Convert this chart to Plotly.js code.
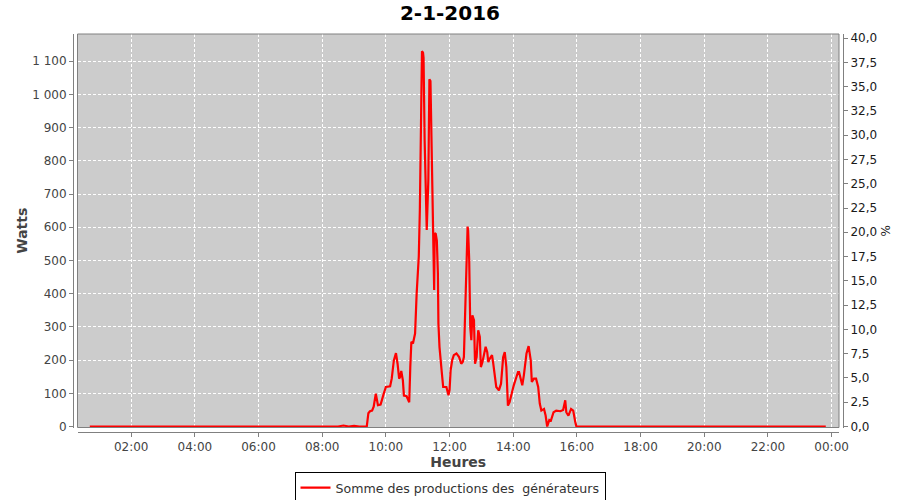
<!DOCTYPE html>
<html>
<head>
<meta charset="utf-8">
<script src="https://cdn.plot.ly/plotly-3.0.1.min.js"></script>
<style>html,body{margin:0;padding:0;background:#fff;}#chart{width:900px;height:500px;}</style>
</head>
<body>
<div id="chart"></div>
<script>
// ---- data ----
const chartTitle = '2-1-2016';
const day = '2016-01-02';
const seriesName = 'Somme des productions des\u00A0 générateurs';
const times = [
  '00:42','01:30','02:30','03:30','04:30','05:30','06:30','07:30','08:30','08:40','08:50','09:00','09:10','09:24',
  '09:27','09:30','09:34','09:37','09:41','09:45','09:50','09:56','10:00','10:08','10:11','10:15','10:19','10:22',
  '10:25','10:27','10:29','10:32','10:34','10:39','10:44','10:46','10:48','10:51','10:55','10:58','11:00','11:02',
  '11:04','11:06','11:08','11:10','11:11','11:13','11:15','11:17','11:20','11:22','11:24','11:27','11:30','11:31',
  '11:32','11:34','11:36','11:38','11:39','11:41','11:45','11:48','11:54','11:58','12:00','12:02','12:05','12:08',
  '12:13','12:18','12:22','12:25','12:27','12:29','12:32','12:34','12:35','12:37','12:39','12:41','12:43','12:46',
  '12:48','12:51','12:54','12:57','12:59','13:02','13:06','13:08','13:11','13:13','13:16','13:20','13:22','13:25',
  '13:28','13:33','13:37','13:41','13:44','13:47','13:50','13:53','13:57','14:01','14:06','14:09','14:11','14:13',
  '14:17','14:20','14:25','14:29','14:33','14:35','14:39','14:43','14:47','14:50','14:53','14:58','15:01','15:04',
  '15:08','15:11','15:16','15:21','15:29','15:34','15:38','15:40','15:44','15:49','15:53','15:57','15:59','16:30',
  '17:30','18:30','19:30','20:30','21:30','22:30','23:49'
];
const watts = [
  0,0,0,0,0,0,0,0,0,3,0,2,0,0,
  40,46,48,60,99,64,66,99,119,121,144,199,221,189,
  144,150,167,139,93,91,73,179,255,250,280,401,481,512,
  653,864,1130,1126,1110,864,673,592,743,1046,1040,764,441,411,
  582,580,560,461,310,240,169,119,119,94,110,169,200,215,
  220,209,189,195,209,310,502,602,590,502,300,260,335,320,
  189,209,290,270,179,194,230,240,224,194,205,215,194,149,
  119,109,129,209,224,179,63,73,104,124,149,164,164,149,
  124,154,220,242,199,134,144,144,119,69,48,53,33,0,
  20,18,43,48,46,50,79,43,33,53,48,13,0,0,
  0,0,0,0,0,0,0
];
const xRange = ['2016-01-02 00:18:50', '2016-01-03 00:13:55'];
const leftRange = [-3, 1182];
const rightRange = [-0.103, 40.42];

const x = times.map(t => day + ' ' + t);

const traces = [
  {
    type: 'scatter', mode: 'lines', name: seriesName,
    x: x, y: watts,
    line: {color: '#ff0000', width: 2.2},
    hoverinfo: 'skip'
  },
  {
    type: 'scatter', mode: 'lines', x: [], y: [], yaxis: 'y2',
    showlegend: false, hoverinfo: 'skip'
  }
];

const axisCol = '#808080';
const tickFont = {family: 'DejaVu Sans', size: 12, color: '#444'};
const titleFont = {family: 'DejaVu Sans', size: 14, color: '#444', weight: 'bold'};

const layout = {
  width: 900, height: 500,
  paper_bgcolor: '#ffffff',
  plot_bgcolor: '#cccccc',
  font: {family: 'DejaVu Sans', size: 12, color: '#444'},
  separators: ', ',
  margin: {l: 73, r: 57, t: 34, b: 68, pad: 0},
  title: {
    text: chartTitle,
    font: {family: 'DejaVu Sans', size: 20, color: '#000', weight: 'bold'},
    x: 0.5, xref: 'container', xanchor: 'center',
    y: 1 - 13 / 500, yref: 'container', yanchor: 'middle'
  },
  showlegend: true,
  legend: {
    x: 0.5, xref: 'container', xanchor: 'center',
    y: 1 - 488 / 500, yref: 'container', yanchor: 'middle',
    orientation: 'h',
    bgcolor: '#ffffff', bordercolor: '#000000', borderwidth: 1,
    font: {family: 'DejaVu Sans', size: 12.6, color: '#333'},
    itemwidth: 30
  },
  xaxis: {
    type: 'date',
    domain: [(77.5 - 73) / 770, (839 - 73) / 770],
    anchor: 'free', position: 0,
    range: xRange,
    tick0: day + ' 00:00', dtick: 2 * 3600 * 1000,
    tickformat: '%H:%M',
    showgrid: true, gridcolor: '#ffffff', gridwidth: 1, griddash: '3px,2px',
    zeroline: false,
    showline: true, linecolor: axisCol, linewidth: 1,
    ticks: 'outside', ticklen: 4, tickcolor: axisCol,
    tickfont: tickFont,
    title: {text: 'Heures', font: titleFont, standoff: 1}
  },
  yaxis: {
    domain: [(432 - 427.5) / 398, 1],
    anchor: 'free', position: 0,
    range: leftRange,
    tick0: 0, dtick: 100,
    separatethousands: true,
    showgrid: true, gridcolor: '#ffffff', gridwidth: 1, griddash: '3px,2px',
    zeroline: false,
    showline: true, linecolor: axisCol, linewidth: 1,
    ticks: 'outside', ticklen: 4, tickcolor: axisCol,
    tickfont: tickFont,
    title: {text: 'Watts', font: titleFont, standoff: 0}
  },
  yaxis2: {
    overlaying: 'y', side: 'right',
    anchor: 'free', position: 1,
    range: rightRange,
    tick0: 0, dtick: 2.5, tickformat: '.1f',
    showgrid: false, zeroline: false,
    showline: true, linecolor: axisCol, linewidth: 1,
    ticks: 'outside', ticklen: 4, tickcolor: axisCol,
    tickfont: {family: 'DejaVu Sans', size: 12, color: '#1a1a1a'},
    title: {text: '%', font: {family: 'DejaVu Sans', size: 12, color: '#1a1a1a'}, standoff: 5}
  },
  shapes: [
    {type: 'rect', xref: 'x domain', yref: 'y domain', x0: 0, x1: 1, y0: 0, y1: 1,
     line: {color: axisCol, width: 1}, fillcolor: 'rgba(0,0,0,0)', layer: 'above'}
  ]
};

Plotly.newPlot('chart', traces, layout, {staticPlot: true, displayModeBar: false});
</script>
</body>
</html>
